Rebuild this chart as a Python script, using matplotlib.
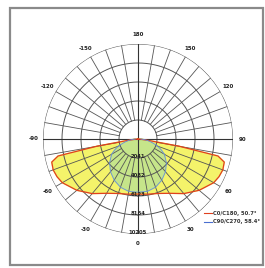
import numpy as np
import matplotlib.pyplot as plt
from matplotlib.patches import Rectangle
from matplotlib.lines import Line2D

# half-plane intensity curves (angle from nadir, deg) in ring units
gamma = [0, 10, 20, 30, 40, 50, 60, 65, 70, 75, 78, 80, 82, 85, 90]
c0_180 = [2.9, 2.95, 3.05, 3.3, 3.75, 4.2, 4.6, 4.7, 4.75, 4.7, 4.3, 2.2, 0.6, 0.15, 0.0]
c90_270 = [2.8, 2.8, 2.7, 2.5, 2.25, 1.95, 1.6, 1.35, 1.1, 0.8, 0.65, 0.55, 0.45, 0.3, 0.15]

ring_labels = ["2041", "4082", "6123", "8164", "10205"]
angle_ticks = [0, 30, 60, 90, 120, 150, 180, -150, -120, -90, -60, -30]
angle_labels = ["0", "30", "60", "90", "120", "150", "180",
                "-150", "-120", "-90", "-60", "-30"]
legend_labels = ["C0/C180, 50.7°", "C90/C270, 58.4°"]


def mirror(g, v):
    g = np.array(g, float)
    v = np.array(v, float)
    th = np.concatenate([-g[::-1], g[1:]])
    r = np.concatenate([v[::-1], v[1:]])
    return np.radians(th), r


fig = plt.figure(figsize=(2.65, 2.68), dpi=100)
fig.patches.append(Rectangle((10 / 265, 3 / 268), 253 / 265, 257 / 268,
                             transform=fig.transFigure, fill=False,
                             edgecolor='#8a8a8a', linewidth=1.6))

cx, cy, R = 138, 139, 95
ax = fig.add_axes([(cx - R) / 265, (268 - cy - R) / 268, 2 * R / 265, 2 * R / 268],
                  projection='polar')
ax.set_theta_zero_location('S')
ax.set_ylim(0, 5)
ax.grid(False)
ax.set_xticks([])
ax.set_yticks([])
ax.spines['polar'].set_visible(False)

th1, r1 = mirror(gamma, c0_180)
th2, r2 = mirror(gamma, c90_270)
ax.fill(th1, r1, color='#f4f36a', zorder=1)
ax.fill(th2, r2, color='#c6e58a', zorder=2)

# grid: rings and spokes
t = np.linspace(0, 2 * np.pi, 361)
for k in range(1, 6):
    ax.plot(t, np.full_like(t, k), color='#555555', lw=0.7, zorder=3)
for a in range(0, 360, 10):
    ax.plot([np.radians(a)] * 2, [1, 5], color='#555555', lw=0.6, zorder=3)
for a in (0, 90, 180, 270):
    ax.plot([np.radians(a)] * 2, [0, 5], color='#333333', lw=0.8, zorder=3)

ax.plot(th1, r1, color='#e0401e', lw=0.9, zorder=4)
ax.plot(th2, r2, color='#6a8fd8', lw=0.6, zorder=4)

for a, lab in zip(angle_ticks, angle_labels):
    ax.text(np.radians(a), 5.5, lab, fontsize=4, fontweight='bold',
            ha='center', va='center', color='#222222')
for k, lab in enumerate(ring_labels, start=1):
    ax.text(0, k - 0.1, lab, fontsize=3.8, fontweight='bold', ha='center',
            va='center', color='#222222', zorder=5)

# legend
for i, (lab, col) in enumerate(zip(legend_labels, ['#e0401e', '#4a6fd0'])):
    y = 1 - (213 + 9 * i) / 268
    fig.lines.append(Line2D([204 / 265, 212 / 265], [y, y], color=col, lw=0.8,
                            transform=fig.transFigure))
    fig.text(213 / 265, y, lab, fontsize=3.8, fontweight='bold', va='center',
             color='#333333')

fig.savefig('out.png', dpi=100)
